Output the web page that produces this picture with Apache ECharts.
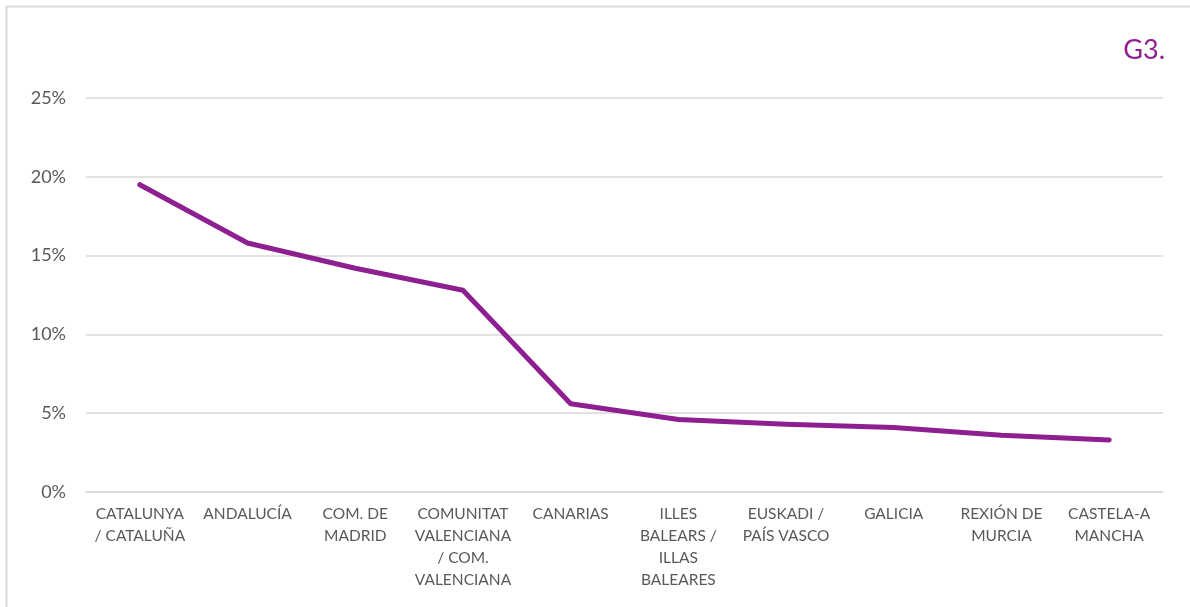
<!DOCTYPE html>
<html>
<head>
<meta charset="utf-8">
<script src="https://cdn.jsdelivr.net/npm/echarts@6/dist/echarts.min.js"></script>
<style>
  html, body { margin: 0; padding: 0; background: #fff; }
  #main { width: 1190px; height: 607px; }
</style>
</head>
<body>
<div id="main"></div>
<script>
// regiones (etiquetas del eje X, con saltos de línea como en el original)
var categories = [
    'CATALUNYA\n/ CATALUÑA',
    'ANDALUCÍA',
    'COM. DE\nMADRID',
    'COMUNITAT\nVALENCIANA\n/ COM.\nVALENCIANA',
    'CANARIAS',
    'ILLES\nBALEARS /\nILLAS\nBALEARES',
    'EUSKADI /\nPAÍS VASCO',
    'GALICIA',
    'REXIÓN DE\nMURCIA',
    'CASTELA-A\nMANCHA'
];
// porcentaje
var values = [19.5, 15.8, 14.2, 12.8, 5.6, 4.6, 4.3, 4.1, 3.6, 3.3];
var yTicks = [0, 5, 10, 15, 20, 25];

var dom = document.getElementById('main');
var myChart = echarts.init(dom);
var purple = '#8e1f91';

var option = {
    backgroundColor: '#ffffff',
    animation: false,
    title: {
        text: 'G3.',
        right: 20,
        top: 32,
        textStyle: {
            color: purple,
            fontFamily: 'Lato',
            fontWeight: 'normal',
            fontSize: 27
        }
    },
    graphic: [{
        type: 'rect',
        shape: { x: 6.5, y: 6.5, width: 1200, height: 620 },
        style: { fill: 'none', stroke: '#d9d9d9', lineWidth: 2 },
        silent: true
    }],
    grid: {
        left: 86,
        right: 27,
        top: 98,
        bottom: 115
    },
    xAxis: {
        type: 'category',
        data: categories,
        boundaryGap: true,
        axisLine: { show: true, lineStyle: { color: '#d9d9d9', width: 1.5 } },
        axisTick: { show: false },
        axisLabel: {
            interval: 0,
            color: '#595959',
            fontFamily: 'Lato',
            fontSize: 15.5,
            lineHeight: 22,
            margin: 11,
            align: 'center'
        }
    },
    yAxis: {
        type: 'value',
        min: yTicks[0],
        max: yTicks[yTicks.length - 1],
        interval: 5,
        axisLine: { show: false },
        axisTick: { show: false },
        splitLine: { lineStyle: { color: '#d9d9d9', width: 1.5 } },
        axisLabel: {
            color: '#595959',
            fontFamily: 'Lato',
            fontSize: 18,
            margin: 20,
            formatter: '{value}%'
        }
    },
    series: [{
        type: 'line',
        data: values,
        symbol: 'none',
        lineStyle: { color: purple, width: 5, cap: 'round', join: 'round' }
    }]
};

myChart.setOption(option, true);
</script>
</body>
</html>
